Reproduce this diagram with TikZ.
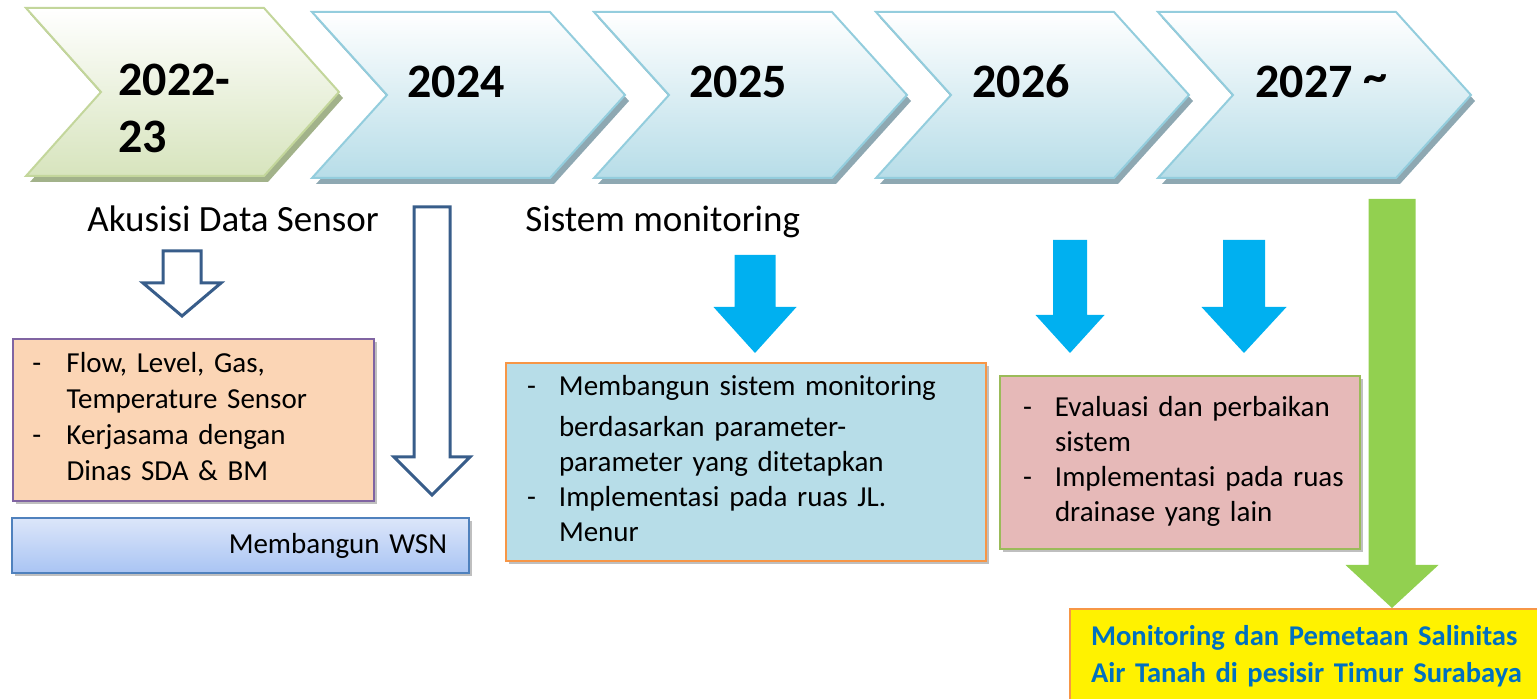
\documentclass[tikz,border=0pt]{standalone}
\usepackage{fontspec}
\setmainfont{Carlito}
\usepackage{tikz}
\usetikzlibrary{calc,shadows}
\definecolor{hijauTepi}{HTML}{C3D69B}
\definecolor{hijauIsi}{HTML}{D7E4BD}
\definecolor{hijauBayang}{HTML}{A2B28A}
\definecolor{biruTepi}{HTML}{93CDDD}
\definecolor{biruIsi}{HTML}{B7DDE8}
\definecolor{biruBayang}{HTML}{8EA8B2}
\definecolor{oranyeIsi}{HTML}{FBD5B5}
\definecolor{oranyeTepi}{HTML}{F79646}
\definecolor{unguTepi}{HTML}{8064A2}
\definecolor{wsnTepi}{HTML}{4F81BD}
\definecolor{wsnTerang}{HTML}{DCE6FA}
\definecolor{wsnGelap}{HTML}{A9C4F3}
\definecolor{merahMuda}{HTML}{E6B9B8}
\definecolor{hijauDaun}{HTML}{9BBB59}
\definecolor{teksBiru}{HTML}{0070C0}
\definecolor{panahBiru}{HTML}{385D8A}
\definecolor{panahCyan}{HTML}{00B0F0}
\definecolor{panahHijau}{HTML}{92D050}

\newcommand{\hurufTahun}{\fontsize{24}{28.5}\selectfont\bfseries}
\newcommand{\hurufJudul}{\fontsize{18.5}{22}\selectfont}
\newcommand{\hurufIsi}{\fontsize{14.5}{17.5}\selectfont}

% chevron tahun: #1 x kiri, #2 y atas, #3 tinggi, #4 gaya, #5 bayangan
\newcommand{\panahTahun}[5]{%
  \fill[#5, shift={(4,6)}] (#1,#2) -- ++(238,0) -- ++(75,#3/2) -- ++(-75,#3/2) -- ++(-238,0) -- ++(75,-#3/2) -- cycle;
  \draw[#4] (#1,#2) -- ++(238,0) -- ++(75,#3/2) -- ++(-75,#3/2) -- ++(-238,0) -- ++(75,-#3/2) -- cycle;}

% panah blok tegak: #2 pangkal, #3 ujung, #4 batang, #5 kepala, #6 panjang kepala
\newcommand{\panahBlok}[6][]{%
  \draw[#1] ($(#2)+(-#4,0)$) -- ($(#2)+(#4,0)$) -- ($(#3)+(#4,-#6)$) -- ($(#3)+(#5,-#6)$)
    -- (#3) -- ($(#3)+(-#5,-#6)$) -- ($(#3)+(-#4,-#6)$) -- cycle;}

\begin{document}
\begin{tikzpicture}[x=0.5pt,y=-0.5pt,
  tahun/.style={font=\hurufTahun, inner sep=0pt},
  judul/.style={font=\hurufJudul, inner sep=0pt, anchor=base west},
  kotak/.style={draw, line width=1pt, anchor=north west, font=\hurufIsi, align=left,
    drop shadow={shadow xshift=1.5pt, shadow yshift=-1.5pt, opacity=.25, fill=black}},
  panahGaris/.style={draw=panahBiru, line width=1.5pt, fill=white},
  panahIsi/.style={fill=#1, draw=none}]
\useasboundingbox (0,0) rectangle (1537,699);
\clip (0,0) rectangle (1537,699);

% garis waktu
\panahTahun{26}{8}{168}{draw=hijauTepi, line width=1pt, top color=white, bottom color=hijauIsi}{hijauBayang}
\foreach \x in {312,594,876,1158}{
  \panahTahun{\x}{12}{166}{draw=biruTepi, line width=1pt, top color=white, bottom color=biruIsi}{biruBayang}
}

\node[tahun, anchor=west, align=left] (th2022) at (118,108) {2022-\\23};
\node[tahun, anchor=base west] (th2024) at (407,98) {2024};
\node[tahun, anchor=base west] (th2025) at (689,98) {2025};
\node[tahun, anchor=base west] (th2026) at (972,98) {2026};
\node[tahun, anchor=base west] (th2027) at (1255,98) {2027 \raisebox{2.5pt}{\textasciitilde}};

\node[judul] (akusisi) at (87,232) {Akusisi Data Sensor};
\node[judul] (sistem) at (525,232) {Sistem monitoring};

% kotak kegiatan
\node[kotak, fill=oranyeIsi, draw=unguTepi, minimum width=180.5pt, minimum height=81pt,
  text width=161pt, inner xsep=9.75pt] (sensor) at (12,338)
  {\begin{tabular}{@{}p{17pt}@{}l@{}}-&Flow, Level, Gas,\\[0.5pt]&Temperature Sensor\\[0.5pt]-&Kerjasama dengan\\[0.5pt]&Dinas SDA \& BM\end{tabular}};
\node[kotak, draw=wsnTepi, top color=wsnTerang, bottom color=wsnGelap, minimum width=228.5pt,
  minimum height=27.5pt, text width=206.5pt, inner xsep=11pt, align=right] (wsn) at (11,517) {Membangun WSN};
\node[kotak, fill=biruIsi, draw=oranyeTepi, minimum width=240pt, minimum height=99pt,
  text width=219pt, inner xsep=10.5pt] (monitor) at (505,362)
  {\begin{tabular}{@{}p{16pt}@{}l@{}}-&Membangun sistem monitoring\\[3pt]&berdasarkan parameter-\\&parameter yang ditetapkan\\-&Implementasi pada ruas JL.\\&Menur\end{tabular}};
\node[kotak, fill=merahMuda, draw=hijauDaun, minimum width=180pt, minimum height=86.5pt,
  text width=157pt, inner xsep=11.5pt] (evaluasi) at (999,375)
  {\begin{tabular}{@{}p{16pt}@{}l@{}}-&Evaluasi dan perbaikan\\&sistem\\-&Implementasi pada ruas\\&drainase yang lain\end{tabular}};
\node[kotak, fill=yellow, draw=oranyeTepi, font=\fontsize{14.3}{18.5}\selectfont\bfseries, text=teksBiru,
  text width=225pt, inner xsep=10.5pt, inner ysep=8pt] (hasil) at (1069,608)
  {Monitoring dan Pemetaan Salinitas\\Air Tanah di pesisir Timur Surabaya};

% panah
\coordinate (akuAtas) at (182,251);
\coordinate (akuUjung) at (182,316);
\coordinate (wsnAtas) at (432,207);
\coordinate (wsnUjung) at (432,495);
\coordinate (sisAtas) at (755,255);
\coordinate (sisUjung) at (755,353);
\coordinate (evaAtas) at (1070,240);
\coordinate (evaUjung) at (1070,353);
\coordinate (evbAtas) at (1244,240);
\coordinate (evbUjung) at (1244,353);
\coordinate (hijauAtas) at (1392,199);
\coordinate (hijauUjung) at (hasil.north -| hijauAtas);
\panahBlok[panahGaris]{akuAtas}{akuUjung}{19}{39}{33}
\panahBlok[panahGaris]{wsnAtas}{wsnUjung}{18}{38}{38}
\panahBlok[panahIsi=panahCyan]{sisAtas}{sisUjung}{20.5}{41.5}{46}
\panahBlok[panahIsi=panahCyan]{evaAtas}{evaUjung}{17}{34.5}{38}
\panahBlok[panahIsi=panahCyan]{evbAtas}{evbUjung}{21}{42.5}{46}
\panahBlok[panahIsi=panahHijau]{hijauAtas}{hijauUjung}{23.5}{46.5}{43}
\end{tikzpicture}
\end{document}
